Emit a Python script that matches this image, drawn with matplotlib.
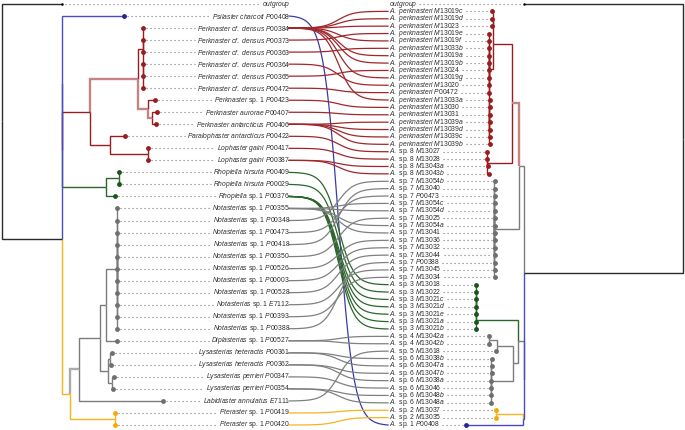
import numpy as np
import matplotlib.pyplot as plt

plt.rcParams['font.family'] = ['Liberation Sans', 'DejaVu Sans']
plt.rcParams['mathtext.fontset'] = 'custom'
plt.rcParams['mathtext.rm'] = 'Liberation Sans'
plt.rcParams['mathtext.it'] = 'Liberation Sans:italic'

BLACK = '#2a2a2a'
RED = '#9b1c20'
RED_LT = '#c98284'
BLUE = '#4b4bbf'
GREEN = '#2c662c'
GREY = '#7c7c7c'
GREY_LT = '#ababab'
YELLOW = '#f6b51e'
DOT = {BLACK: 'black', RED: '#9b1c20', BLUE: '#262690', GREEN: '#1d541d',
       GREY: '#6f6f6f', YELLOW: '#f5aa00'}

# ---- tip labels -------------------------------------------------------------
notasterias_ids = ['P00355', 'P00348', 'P00473', 'P00418', 'P00350', 'P00526',
                   'P00003', 'P00528', 'E7112', 'P00393', 'P00388']
left_labels = (
    ['outgroup', 'Psilaster charcoti P00408']
    + ['Perknaster cf. densus ' + s for s in
       ['P00384', 'P00373', 'P00363', 'P00364', 'P00365', 'P00472']]
    + ['Perknaster sp. 1 P00423', 'Perknaster aurorae P00407',
       'Perknaster antarcticus P00406', 'Paralophaster antarcticus P00422',
       'Lophaster gaini P00417', 'Lophaster gaini P00387',
       'Rhopiella hirsuta P00409', 'Rhopiella hirsuta P00029', 'Rhopiella sp. 1 P00376']
    + ['Notasterias sp. 1 ' + s for s in notasterias_ids]
    + ['Diplasterias sp. 1 P00527',
       'Lysasterias heteractis P00361', 'Lysasterias heteractis P00362',
       'Lysasterias perrieri P00347', 'Lysasterias perrieri P00354',
       'Labidiaster annulatus E7111', 'Pteraster sp. 1 P00419', 'Pteraster sp. 1 P00420']
)

perk_ids = ['M13019c', 'M13019d', 'M13023', 'M13019e', 'M13019f', 'M13033b', 'M13019a',
            'M13019b', 'M13024', 'M13019g', 'M13020', 'P00472', 'M13033a', 'M13030',
            'M13031', 'M13039a', 'M13039d', 'M13039c', 'M13039b']
sp8_ids = ['M13027', 'M13028', 'M13043a', 'M13043b']
sp7_ids = ['M13054b', 'M13040', 'P00473', 'M13054c', 'M13054d', 'M13025', 'M13054a',
           'M13041', 'M13036', 'M13032', 'M13044', 'P00388', 'M13045', 'M13034']
sp3_ids = ['M13018', 'M13022', 'M13021c', 'M13021d', 'M13021e', 'M13021a', 'M13021b']
sp4_ids = ['M13042a', 'M13042b']
sp5_ids = ['M13618']
sp6_ids = ['M13038b', 'M13047a', 'M13047b', 'M13038a', 'M13046', 'M13048b', 'M13048a']
sp2_ids = ['M13037', 'M13035']
sp1_ids = ['P00408']
right_labels = (['outgroup']
                + ['A. perknasteri ' + s for s in perk_ids]
                + ['A. sp. 8 ' + s for s in sp8_ids]
                + ['A. sp. 7 ' + s for s in sp7_ids]
                + ['A. sp. 3 ' + s for s in sp3_ids]
                + ['A. sp. 4 ' + s for s in sp4_ids]
                + ['A. sp. 5 ' + s for s in sp5_ids]
                + ['A. sp. 6 ' + s for s in sp6_ids]
                + ['A. sp. 2 ' + s for s in sp2_ids]
                + ['A. sp. 1 ' + s for s in sp1_ids])

# host tip index -> associate tip index
links = [
    (1, 57),
    (2, 1), (2, 2), (2, 3), (2, 5), (2, 7), (2, 8), (2, 10), (2, 13),
    (3, 4), (4, 6), (5, 11), (6, 9), (7, 12), (8, 14), (9, 15),
    (10, 16), (10, 17), (10, 18), (10, 19),
    (11, 20), (12, 21), (13, 22), (13, 23),
    (14, 38), (15, 39), (16, 40), (16, 41), (16, 42), (16, 43), (16, 44),
    (17, 27), (17, 28), (17, 30), (17, 31),
    (18, 24), (19, 26), (20, 25), (21, 29), (22, 32), (23, 33), (24, 34),
    (25, 36), (26, 37), (27, 35),
    (28, 45), (28, 46),
    (29, 48), (29, 49), (30, 50), (30, 51), (31, 52), (32, 53), (32, 54),
    (33, 47), (34, 55), (35, 56),
]


# ---- trees (depth = distance from the root) --------------------------------
def L(d, c):
    return {'d': d, 'c': c}


def N(d, c, *kids):
    return {'d': d, 'c': c, 'kids': list(kids)}


def Ls(n, d, c):
    return [L(d, c) for _ in range(n)]


left_tree = N(0, BLACK,
    L(60, BLACK),
    N(60, BLACK,
        N(60, BLUE,
            L(122, BLUE),
            N(60, BLUE,
                N(88, RED,
                    N(136, RED_LT,
                        N(141, RED, *Ls(3, 141, RED), N(141, RED, *Ls(3, 141, RED))),
                        N(146, RED_LT,
                            L(153, RED),
                            N(150, RED_LT, L(155, RED), L(154, RED)))),
                    N(108, RED,
                        L(123, RED),
                        N(146, RED, *Ls(2, 146, RED)))),
                N(104, GREEN,
                    N(117, GREEN, *Ls(2, 117, GREEN)),
                    L(113, GREEN)))),
        N(68, YELLOW,
            N(77, GREY_LT,
                N(98, GREY,
                    N(104, GREY,
                        N(115, GREY, *Ls(11, 115, GREY)),
                        L(115, GREY)),
                    N(106, GREY,
                        N(108, GREY, L(110, GREY), L(109, GREY)),
                        N(110, GREY, L(112, GREY), L(111, GREY)))),
                L(161, GREY)),
            N(113, YELLOW, *Ls(2, 113, YELLOW)))))

right_tree = N(0, BLACK,
    L(159, BLACK),
    N(159, BLACK,
        N(164, GREY,
            N(171, RED_LT,
                N(190, RED,
                    N(190, RED, *Ls(3, 191, RED)),
                    N(194, RED, *Ls(9, 194, RED), N(194, RED, *Ls(7, 193, RED)))),
                N(196, RED, L(196, RED), L(196, RED), L(195, RED), L(194, RED))),
            N(189, GREY, *Ls(14, 188, GREY))),
        N(159, BLUE,
            N(165, GREY,
                N(207, GREEN, N(207, GREEN, N(207, GREEN, *Ls(5, 207, GREEN)),
                                L(207, GREEN)), L(207, GREEN)),
                N(170, GREY,
                    N(186, GREY, N(194, GREY, *Ls(2, 194, GREY)), L(187, GREY)),
                    N(192, GREY, *Ls(3, 191, GREY), *Ls(4, 192, GREY)))),
            N(160, BLUE,
                N(187, YELLOW, *Ls(2, 187, YELLOW)),
                L(217, BLUE)))))


def layout(node, root_x, sign, ys, tips):
    node['x'] = root_x + sign * node['d']
    if 'kids' not in node:
        node['y'] = ys[len(tips)]
        tips.append(node)
        return
    for k in node['kids']:
        layout(k, root_x, sign, ys, tips)
    node['y'] = np.mean([k['y'] for k in node['kids']])


def draw_tree(ax, node):
    if 'kids' not in node:
        return
    for k in node['kids']:
        draw_tree(ax, k)
    for k in node['kids']:
        lw = 1.7 if k['c'] in (RED_LT, GREY_LT) else 1.0
        ax.plot([node['x'], node['x'], k['x']], [node['y'], k['y'], k['y']],
                color=k['c'], lw=lw, solid_capstyle='butt', solid_joinstyle='miter', zorder=2)


def fmt(label):
    out, after_sp = [], False
    for w in label.split(' '):
        if w == 'sp.':
            out.append(w)
            after_sp = True
        elif after_sp:
            out.append(w)
            after_sp = False
        else:
            out.append(r'$\mathit{%s}$' % w)
    return ' '.join(out)


def sigmoid(x0, x1, y0, y1, k=6.5, n=80):
    t = np.linspace(-k, k, n)
    s = 1 / (1 + np.exp(-t))
    s = (s - s[0]) / (s[-1] - s[0])
    return x0 + (t + k) / (2 * k) * (x1 - x0), y0 + s * (y1 - y0)


fig = plt.figure(figsize=(6.85, 4.3), dpi=100)
ax = fig.add_axes([0, 0, 1, 1])
ax.set_xlim(0, 685)
ax.set_ylim(430, 0)
ax.axis('off')

left_tips, right_tips = [], []
layout(left_tree, 2, 1, np.linspace(4, 425, len(left_labels)), left_tips)
layout(right_tree, 683, -1, np.linspace(4, 425, len(right_labels)), right_tips)
draw_tree(ax, left_tree)
draw_tree(ax, right_tree)

LEFT_TEXT, RIGHT_TEXT = 290, 389
renderer = fig.canvas.get_renderer()
inv = ax.transData.inverted()

for side, tips, labels in (('L', left_tips, left_labels), ('R', right_tips, right_labels)):
    for tip, lab in zip(tips, labels):
        small = lab == 'outgroup'
        ax.plot(tip['x'], tip['y'], 'o', ms=1.8 if small else 3.5,
                color=DOT.get(tip['c'], tip['c']), mec='none', zorder=4)
        if side == 'L':
            t = ax.text(LEFT_TEXT, tip['y'], fmt(lab), ha='right', va='center',
                        fontsize=4.9, color='#2e2e2e', zorder=3)
        else:
            t = ax.text(RIGHT_TEXT, tip['y'], fmt(lab), ha='left', va='center',
                        fontsize=4.9, color='#2e2e2e', zorder=3)
        bb = t.get_window_extent(renderer=renderer)
        (bx0, _), (bx1, _) = inv.transform([[bb.x0, bb.y0], [bb.x1, bb.y1]])
        if side == 'L':
            seg = [tip['x'] + 3, bx0 - 2]
        else:
            seg = [bx1 + 2, tip['x'] - 3]
        ax.plot(seg, [tip['y'], tip['y']], color='#777777', lw=0.8,
                ls=(0, (1, 2.6)), zorder=1)

link_col = {RED: '#a0272b', BLUE: '#3b3ba8', GREEN: '#2c662c', GREY: '#808080',
            YELLOW: '#f6b51e'}
for i, j in links:
    a, b = left_tips[i], right_tips[j]
    xs, ys = sigmoid(LEFT_TEXT - 1, RIGHT_TEXT - 1, a['y'], b['y'])
    ax.plot(xs, ys, color=link_col[a['c']], lw=0.9, zorder=2.5)

fig.savefig('out.png', dpi=100)
